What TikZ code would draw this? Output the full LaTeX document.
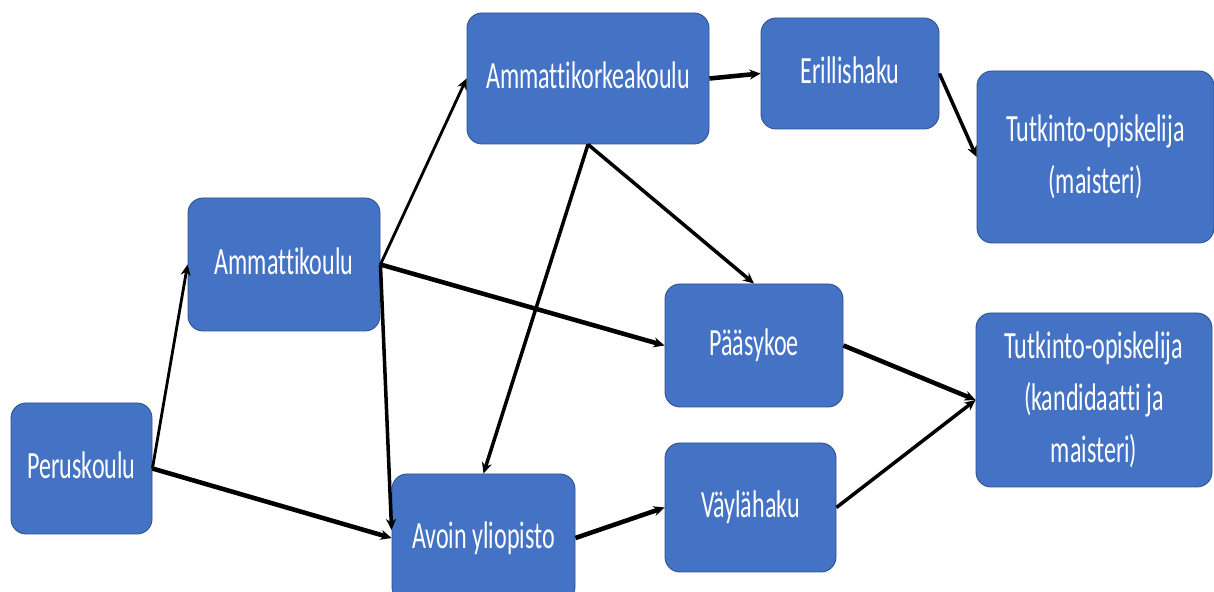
\documentclass[tikz,border=0pt]{standalone}
\usepackage{fontspec}
\setmainfont{Carlito}[Ligatures=NoCommon]
\usepackage{graphicx}
\usetikzlibrary{arrows.meta, positioning}
\definecolor{officeblue}{HTML}{4472C4}
\definecolor{officeedge}{HTML}{2F528F}
\newcommand{\tall}[1]{\raisebox{-1.2pt}{\scalebox{1}[1.6]{\begin{tabular}{@{}c@{}}#1\end{tabular}}}}
\tikzset{
>={Stealth[length=0.22cm, width=0.2cm]}, % filled arrow heads of one size
node distance=2cm, % centre to centre distance for "right of" and the like
school/.style={rectangle, rounded corners=0.3cm, draw=officeedge, line width=0.5pt, fill=officeblue, text=white, inner sep=0pt, font=\fontsize{13.7pt}{18.4pt}\selectfont}, % every box of the chart
}
\tikzset{
  lightarrow/.style={->, line width=1.6pt},
  midarrow/.style={->, line width=2pt},
  heavyarrow/.style={->, line width=2.6pt}
}

\begin{document}
\begin{tikzpicture}
      \clip (0,0) rectangle (24.28,11.84);
      \fill[white] (0,0) rectangle (24.28,11.84);

      \node[school, minimum width=2.82cm, minimum height=2.62cm] at (1.63,2.47) (peruskoulu) {\tall{Peruskoulu}};
      \node[school, minimum width=3.84cm, minimum height=2.66cm, right of=peruskoulu, xshift=2.05cm, yshift=4.08cm] (ammattikoulu) {\tall{Ammattikoulu}};
      \node[school, minimum width=4.84cm, minimum height=2.62cm, right of=ammattikoulu, xshift=4.08cm, yshift=3.72cm] (amk) {\tall{Ammattikorkeakoulu}};
      \node[school, minimum width=3.56cm, minimum height=2.22cm, right of=amk, xshift=3.24cm, yshift=0.1cm] (erillishaku) {\tall{Erillishaku}};
      \node[school, minimum width=4.74cm, minimum height=3.44cm, right of=erillishaku, xshift=2.91cm, yshift=-1.67cm] (maisteri) {\tall{Tutkinto-opiskelija\\(maisteri)}};
      \node[school, minimum width=3.66cm, minimum height=2.56cm, right of=peruskoulu, xshift=6.04cm, yshift=-1.39cm] (avoin) {\tall{Avoin yliopisto}};
      \node[school, minimum width=3.42cm, minimum height=2.58cm, right of=avoin, xshift=3.34cm, yshift=0.61cm] (vaylahaku) {\tall{Väylähaku}};
      \node[school, minimum width=3.56cm, minimum height=2.46cm, above of=vaylahaku, xshift=0.07cm, yshift=1.24cm] (paasykoe) {\tall{Pääsykoe}};
      \node[school, minimum width=4.72cm, minimum height=3.48cm, below of=maisteri, xshift=-0.03cm, yshift=-2.86cm] (kandidaatti) {\tall{Tutkinto-opiskelija\\(kandidaatti ja\\maisteri)}};

      \draw (peruskoulu.east) edge[lightarrow] (ammattikoulu.west)
      (peruskoulu.east) edge[heavyarrow] (avoin.west)
      (ammattikoulu.east) edge[lightarrow] (amk.west)
      (ammattikoulu.east) edge[heavyarrow] (paasykoe.west)
      (ammattikoulu.east) edge[midarrow] (avoin.175)
      (amk.south) edge[midarrow] (avoin.north)
      (amk.south) edge[midarrow] (paasykoe.north)
      (amk.east) edge[heavyarrow] (erillishaku.west)
      (erillishaku.east) edge[midarrow] (maisteri.west)
      (paasykoe.east) edge[heavyarrow] (kandidaatti.west)
      (vaylahaku.east) edge[midarrow] (kandidaatti.west)
      (avoin.east) edge[heavyarrow] (vaylahaku.west);
    \end{tikzpicture}
\end{document}
